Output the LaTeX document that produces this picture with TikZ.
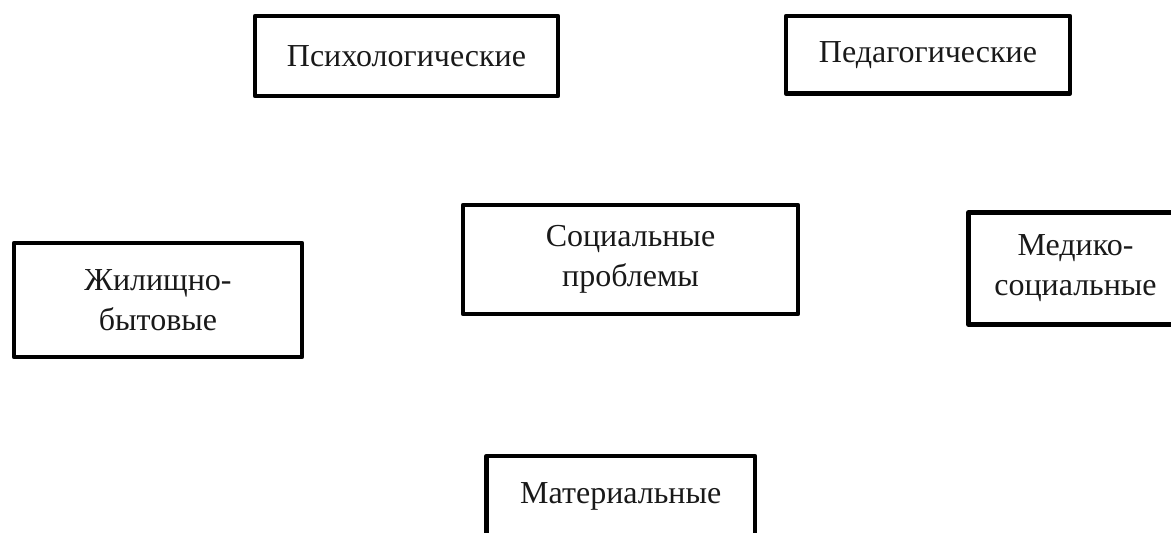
\documentclass[tikz,border=0pt]{standalone}
\usepackage{fontspec}
\setmainfont{Liberation Serif}
\begin{document}
\begin{tikzpicture}[x=1pt,y=-1pt,
  box/.style={draw=black, line width=4.6pt, line join=round, fill=none, inner sep=0pt,
    align=center, font=\fontsize{32}{40}\selectfont, text=black!90}]
\useasboundingbox (0,0) rectangle (1171,533);
\clip (0,0) rectangle (1171,533);
\node[box, minimum width=303pt, minimum height=80pt] (psy) at (406.5,56) {Психологические};
\node[box, minimum width=284pt, minimum height=77.5pt] (ped) at (928,54.75) {Педагогические};
\node[box, minimum width=288pt, minimum height=114pt] (zhil) at (158,300) {Жилищно-\\бытовые};
\node[box, minimum width=335pt, minimum height=109pt] (soc) at (630.5,259.5) {Социальные\\проблемы};
\node[box, minimum width=214pt, minimum height=112pt] (med) at (1075.5,268.5) {Медико-\\социальные};
\node[box, minimum width=268.5pt, minimum height=80pt] (mat) at (620.75,496) {Материальные};
\end{tikzpicture}
\end{document}
